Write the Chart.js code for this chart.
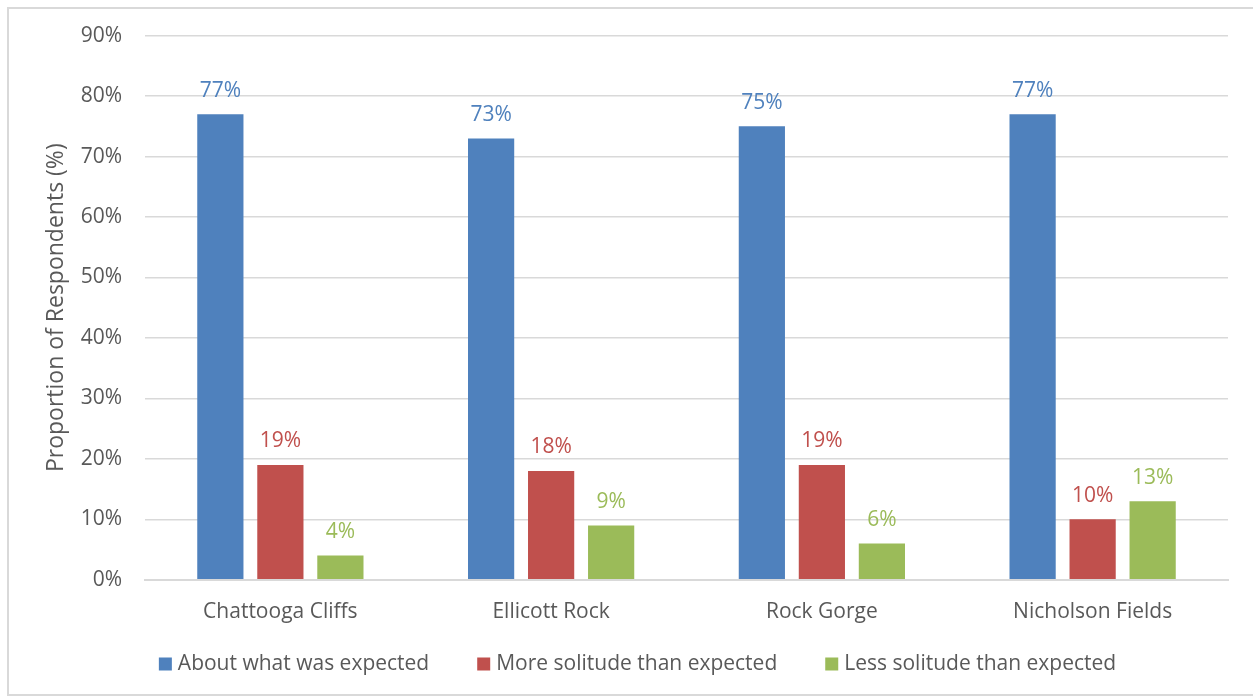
<!DOCTYPE html>
<html lang="en">
<head>
  <meta charset="UTF-8" />
  <title>Perceived solitude by area</title>
  <script src="https://cdn.jsdelivr.net/npm/chart.js"></script>
  <style>
    body {
      margin: 0;
      background: #ffffff;
      font-family: "Open Sans", Arial, sans-serif;
    }
    .frame {
      position: absolute;
      left: 7px;
      top: 7px;
      width: 1260px;
      height: 689px;
      border: 2px solid #d9d9d9;
      box-sizing: border-box;
    }
    .wrap {
      position: absolute;
      left: 0;
      top: 0;
      width: 1253px;
      height: 700px;
    }
  </style>
</head>
<body>

  <div class="frame"></div>
  <div class="wrap">
    <canvas id="solitudeChart"></canvas>
  </div>

  <script>
    const areas = ["Chattooga Cliffs", "Ellicott Rock", "Rock Gorge", "Nicholson Fields"];
    const aboutExpected = [77, 73, 75, 77];
    const moreSolitude = [19, 18, 19, 10];
    const lessSolitude = [4, 9, 6, 13];
    const yTicks = [0, 10, 20, 30, 40, 50, 60, 70, 80, 90];

    const grey = '#595959';
    const fam = '"Open Sans", Arial, sans-serif';

    // draws the value above each bar in the bar's own colour
    const barLabels = {
      id: 'barLabels',
      afterDatasetsDraw(chart) {
        const ctx = chart.ctx;
        ctx.save();
        ctx.font = '21px ' + fam;
        ctx.textAlign = 'center';
        ctx.textBaseline = 'bottom';
        chart.data.datasets.forEach((ds, i) => {
          const meta = chart.getDatasetMeta(i);
          ctx.fillStyle = ds.backgroundColor;
          meta.data.forEach((bar, j) => {
            ctx.fillText(ds.data[j] + '%', bar.x, bar.y - 13);
          });
        });
        ctx.restore();
      }
    };

    // bottom legend with wider spacing than the built-in one
    const wideLegend = {
      id: 'wideLegend',
      afterDraw(chart) {
        const ctx = chart.ctx;
        const box = 13, gapText = 6, gapItem = 48;
        ctx.save();
        ctx.font = '21px ' + fam;
        ctx.textBaseline = 'middle';
        const items = chart.data.datasets.map(ds => ({
          text: ds.label,
          color: ds.backgroundColor,
          w: box + gapText + ctx.measureText(ds.label).width
        }));
        const total = items.reduce((s, it) => s + it.w, 0) + gapItem * (items.length - 1);
        let x = chart.width / 2 + 11 - total / 2;
        const y = chart.height - 36;
        items.forEach(it => {
          ctx.fillStyle = it.color;
          ctx.fillRect(x, y - box / 2, box, box);
          ctx.fillStyle = grey;
          ctx.fillText(it.text, x + box + gapText, y);
          x += it.w + gapItem;
        });
        ctx.restore();
      }
    };

    new Chart(document.getElementById('solitudeChart'), {
      type: 'bar',
      data: {
        labels: areas,
        datasets: [
          { label: 'About what was expected', data: aboutExpected, backgroundColor: '#4f81bd' },
          { label: 'More solitude than expected', data: moreSolitude, backgroundColor: '#c0504d' },
          { label: 'Less solitude than expected', data: lessSolitude, backgroundColor: '#9bbb59' }
        ]
      },
      options: {
        responsive: true,
        maintainAspectRatio: false,
        animation: false,
        datasets: {
          bar: { categoryPercentage: 0.665, barPercentage: 0.77 }
        },
        layout: { padding: { left: 43, right: 25, top: 35, bottom: 63 } },
        plugins: {
          legend: { display: false },
          tooltip: { enabled: false }
        },
        scales: {
          x: {
            grid: { display: false },
            border: { color: '#d9d9d9', width: 2 },
            ticks: {
              color: grey,
              padding: 12,
              font: { size: 21, family: fam }
            }
          },
          y: {
            min: 0,
            max: 90,
            afterBuildTicks: axis => { axis.ticks = yTicks.map(v => ({ value: v })); },
            afterFit: axis => { axis.width = 102; },
            grid: { color: '#d9d9d9', lineWidth: 1.5, drawTicks: false },
            border: { display: false },
            ticks: {
              color: grey,
              padding: 23,
              callback: v => v + '%',
              font: { size: 21, family: fam }
            },
            title: {
              display: true,
              text: 'Proportion of Respondents (%)',
              color: grey,
              padding: 0,
              font: { size: 23, family: fam }
            }
          }
        }
      },
      plugins: [barLabels, wideLegend]
    });
  </script>

</body>
</html>
